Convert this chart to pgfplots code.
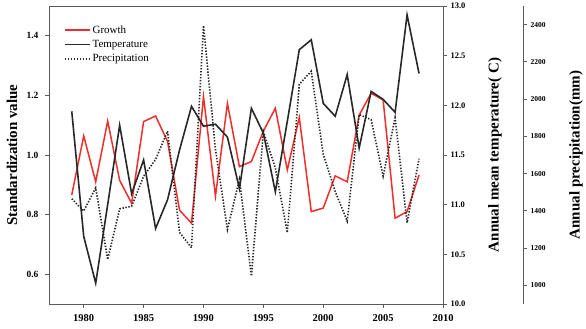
\documentclass[border=0pt]{standalone}
\usepackage{fontspec}
\setmainfont{Liberation Serif}
\usepackage{pgfplots}
\pgfplotsset{compat=1.18}
\definecolor{gred}{RGB}{240,45,45}
\definecolor{tblack}{RGB}{40,40,40}
\definecolor{axgray}{RGB}{90,90,90}
\pgfplotsset{
  base/.style={
    scale only axis, width=394bp, height=298bp,
    at={(49bp,25bp)}, anchor=south west,
    xmin=1977.1, xmax=2010,
    tick align=outside, major tick length=4bp,
    axis line style={line width=0.9bp, axgray},
    every tick/.style={line width=0.8bp, axgray},
    /pgf/number format/assume math mode=true,
    clip=false,
  },
  precip/.style={tblack, line width=1.6bp, dash pattern=on 1.4bp off 1.6bp},
}
\begin{document}
\begin{tikzpicture}
\path[use as bounding box] (0,0) rectangle (586bp,329bp);
% ---- left axis: growth ----
\begin{axis}[base,
  ymin=0.5, ymax=1.5,
  tick pos=left,
  xtick={1980,1985,1990,1995,2000,2005,2010},
  ytick={0.6,0.8,1.0,1.2,1.4},
  xticklabel style={font=\bfseries\fontsize{10.5bp}{12bp}\selectfont, yshift=-3bp, /pgf/number format/1000 sep={}},
  yticklabel style={font=\bfseries\fontsize{9.5bp}{11bp}\selectfont, xshift=-3bp, /pgf/number format/.cd, fixed, fixed zerofill, precision=1},
  ylabel={Standardization value},
  ylabel style={font=\bfseries\fontsize{15bp}{17bp}\selectfont, at={(axis description cs:-0.094,0.5)}, anchor=center},
  legend style={draw=none, fill=none, at={(0.035,0.945)}, anchor=north west,
    font=\fontsize{11bp}{13bp}\selectfont, row sep=1.5bp, inner sep=1bp},
  legend cell align=left,
  legend image code/.code={\draw[#1] (0bp,0bp) -- (25bp,0bp);},
]
\addplot[gred, line width=1.5bp] coordinates {
(1979,0.866) (1980,1.064) (1981,0.910) (1982,1.114) (1983,0.915) (1984,0.838)
(1985,1.112) (1986,1.131) (1987,1.045) (1988,0.815) (1989,0.771) (1990,1.196)
(1991,0.862) (1992,1.173) (1993,0.961) (1994,0.978) (1995,1.080) (1996,1.157)
(1997,0.950) (1998,1.126) (1999,0.810) (2000,0.822) (2001,0.930) (2002,0.910)
(2003,1.134) (2004,1.207) (2005,1.185) (2006,0.788) (2007,0.810) (2008,0.933)};
\addlegendentry{Growth}
\addlegendimage{tblack, line width=1.6bp}
\addlegendentry{Temperature}
\addlegendimage{precip}
\addlegendentry{Precipitation}
\end{axis}
% ---- temperature axis ----
\begin{axis}[base,
  ymin=10, ymax=13,
  hide x axis, axis y line*=right,
  ytick={10,10.5,11,11.5,12,12.5,13},
  yticklabel style={font=\bfseries\fontsize{8.5bp}{10bp}\selectfont, /pgf/number format/.cd, fixed, fixed zerofill, precision=1},
  ylabel={Annual mean temperature( C)},
  ylabel style={font=\bfseries\fontsize{15bp}{17bp}\selectfont, at={(axis description cs:1.132,0.5)}, anchor=center, rotate=0},
]
\addplot[tblack, line width=1.6bp] coordinates {
(1979,11.94) (1980,10.68) (1981,10.21) (1982,11.00) (1983,11.80) (1984,11.11)
(1985,11.45) (1986,10.76) (1987,11.05) (1988,11.55) (1989,11.99) (1990,11.79)
(1991,11.81) (1992,11.68) (1993,11.16) (1994,11.97) (1995,11.72) (1996,11.13)
(1997,11.84) (1998,12.56) (1999,12.66) (2000,12.02) (2001,11.89) (2002,12.31)
(2003,11.57) (2004,12.14) (2005,12.06) (2006,11.93) (2007,12.91) (2008,12.32)};
\end{axis}
% ---- precipitation data ----
\begin{axis}[base,
  ymin=900, ymax=2500,
  hide x axis, hide y axis,
]
\addplot[precip] coordinates {
(1979,1465) (1980,1399) (1981,1524) (1982,1139) (1983,1411) (1984,1425)
(1985,1586) (1986,1676) (1987,1828) (1988,1284) (1989,1202) (1990,2395)
(1991,1730) (1992,1300) (1993,1569) (1994,1050) (1995,1826) (1996,1630)
(1997,1283) (1998,2080) (1999,2150) (2000,1703) (2001,1504) (2002,1345)
(2003,1917) (2004,1890) (2005,1586) (2006,1900) (2007,1336) (2008,1680)};
\end{axis}
% ---- precipitation axis ----
\begin{axis}[base,
  width=474bp,
  xmin=0, xmax=1,
  ymin=900, ymax=2500,
  hide x axis, axis y line*=right,
  ytick={1000,1200,1400,1600,1800,2000,2200,2400},
  yticklabel style={font=\bfseries\fontsize{7.5bp}{9bp}\selectfont, /pgf/number format/1000 sep={}},
  ylabel={Annual precipitation(mm)},
  ylabel style={font=\bfseries\fontsize{15bp}{17bp}\selectfont, at={(axis description cs:1.112,0.5)}, anchor=center, rotate=0},
]
\addplot[draw=none, forget plot] coordinates {(0,1000)};
\end{axis}
\end{tikzpicture}
\end{document}
